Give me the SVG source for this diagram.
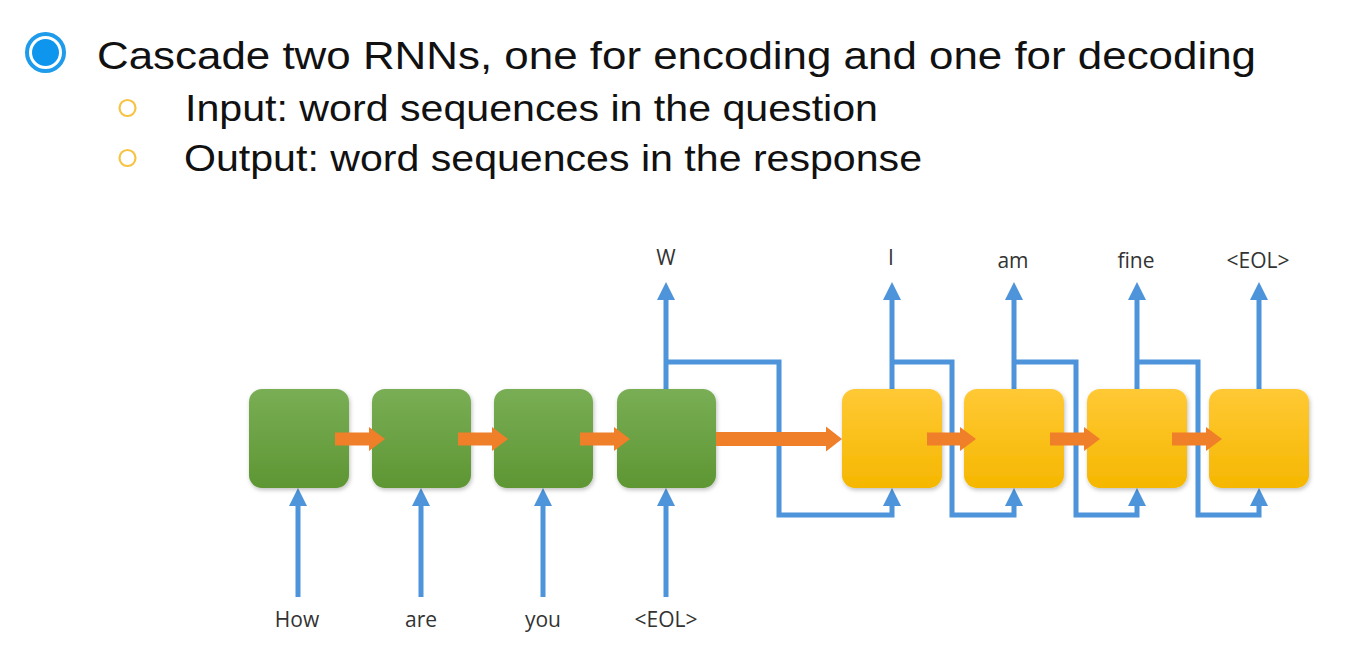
<svg xmlns="http://www.w3.org/2000/svg" width="1346" height="654" viewBox="0 0 1346 654">
<defs>
<linearGradient id="gGreen" x1="0" y1="0" x2="0" y2="1">
<stop offset="0" stop-color="#79AE55"/>
<stop offset="1" stop-color="#5E9633"/>
</linearGradient>
<linearGradient id="gYellow" x1="0" y1="0" x2="0" y2="1">
<stop offset="0" stop-color="#FFC935"/>
<stop offset="1" stop-color="#F5B700"/>
</linearGradient>
<filter id="sh" x="-10%" y="-10%" width="130%" height="130%">
<feDropShadow dx="1" dy="2" stdDeviation="2" flood-color="#000" flood-opacity="0.25"/>
</filter>
<marker id="bh" viewBox="0 0 20 18" refX="0" refY="9" markerWidth="20" markerHeight="18" markerUnits="userSpaceOnUse" orient="auto">
<path d="M0,0 L18,9 L0,18 Z" fill="#4D94DA"/>
</marker>
</defs>
<style>
.title{font-family:"Liberation Sans",Arial,sans-serif;font-size:38px;fill:#111}
.sub{font-family:"Liberation Sans",Arial,sans-serif;font-size:36px;fill:#111}
.lbl{font-family:"Open Sans","Noto Sans",sans-serif;font-size:21px;fill:#333;text-anchor:middle}
.enc{fill:url(#gGreen);filter:url(#sh)}
.dec{fill:url(#gYellow);filter:url(#sh)}
.bl{fill:none;stroke:#4D94DA;stroke-width:5}
.ar{fill:#F07F2A}
</style>
<rect width="1346" height="654" fill="#fff"/>
<g id="bullets">
<circle cx="45.5" cy="52.5" r="18.5" fill="none" stroke="#1E9BEB" stroke-width="4"/>
<circle cx="45.5" cy="52.5" r="13.5" fill="#0E96EE"/>
<circle cx="127.5" cy="108" r="8" fill="none" stroke="#F6C343" stroke-width="2.2"/>
<circle cx="127.5" cy="158" r="8" fill="none" stroke="#F6C343" stroke-width="2.2"/>
</g>
<g id="text">
<text class="title" x="97" y="69" textLength="1159" lengthAdjust="spacingAndGlyphs">Cascade two RNNs, one for encoding and one for decoding</text>
<text class="sub" x="185" y="121" textLength="693" lengthAdjust="spacingAndGlyphs">Input: word sequences in the question</text>
<text class="sub" x="184" y="171" textLength="738" lengthAdjust="spacingAndGlyphs">Output: word sequences in the response</text>
</g>
<g id="connectors">
<!-- inputs -->
<path class="bl" d="M298,597 V506" marker-end="url(#bh)"/>
<path class="bl" d="M421,597 V506" marker-end="url(#bh)"/>
<path class="bl" d="M543,597 V506" marker-end="url(#bh)"/>
<path class="bl" d="M666,597 V506" marker-end="url(#bh)"/>
<!-- outputs -->
<path class="bl" d="M666,390 V300" marker-end="url(#bh)"/>
<path class="bl" d="M892,390 V300" marker-end="url(#bh)"/>
<path class="bl" d="M1014,390 V300" marker-end="url(#bh)"/>
<path class="bl" d="M1137,390 V300" marker-end="url(#bh)"/>
<path class="bl" d="M1259,390 V300" marker-end="url(#bh)"/>
<!-- feedback -->
<path class="bl" d="M666,362 H779 V515 H892 V506" marker-end="url(#bh)"/>
<path class="bl" d="M892,362 H952 V515 H1014 V506" marker-end="url(#bh)"/>
<path class="bl" d="M1014,362 H1076 V515 H1137 V506" marker-end="url(#bh)"/>
<path class="bl" d="M1137,362 H1198 V515 H1259 V506" marker-end="url(#bh)"/>
</g>
<g id="enc1"><rect class="enc" x="249" y="389" width="100" height="99" rx="13"/></g>
<g id="enc2"><rect class="enc" x="372" y="389" width="99" height="99" rx="13"/></g>
<g id="enc3"><rect class="enc" x="494" y="389" width="99" height="99" rx="13"/></g>
<g id="enc4"><rect class="enc" x="617" y="389" width="99" height="99" rx="13"/></g>
<g id="dec1"><rect class="dec" x="842" y="389" width="100" height="99" rx="13"/></g>
<g id="dec2"><rect class="dec" x="964" y="389" width="100" height="99" rx="13"/></g>
<g id="dec3"><rect class="dec" x="1087" y="389" width="100" height="99" rx="13"/></g>
<g id="dec4"><rect class="dec" x="1209" y="389" width="100" height="99" rx="13"/></g>
<g id="state-arrows">
<path class="ar" d="M335,432.5 H369 V427 L385,439 L369,451 V445.5 H335 Z"/>
<path class="ar" d="M458,432.5 H492 V427 L508,439 L492,451 V445.5 H458 Z"/>
<path class="ar" d="M580,432.5 H614 V427 L630,439 L614,451 V445.5 H580 Z"/>
<path class="ar" d="M716,432 H826 V426.5 L842,439 L826,451.5 V446 H716 Z"/>
<path class="ar" d="M927,432.5 H960 V427 L976,439 L960,451 V445.5 H927 Z"/>
<path class="ar" d="M1050,432.5 H1084 V427 L1100,439 L1084,451 V445.5 H1050 Z"/>
<path class="ar" d="M1172,432.5 H1206 V427 L1222,439 L1206,451 V445.5 H1172 Z"/>
</g>
<g id="labels">
<text class="lbl" x="297" y="627">How</text>
<text class="lbl" x="421" y="627">are</text>
<text class="lbl" x="543" y="627">you</text>
<text class="lbl" x="666" y="627">&lt;EOL&gt;</text>
<text class="lbl" x="666" y="265">W</text>
<text class="lbl" x="891" y="265">I</text>
<text class="lbl" x="1013" y="268">am</text>
<text class="lbl" x="1136" y="268">fine</text>
<text class="lbl" x="1258" y="268">&lt;EOL&gt;</text>
</g>
</svg>
